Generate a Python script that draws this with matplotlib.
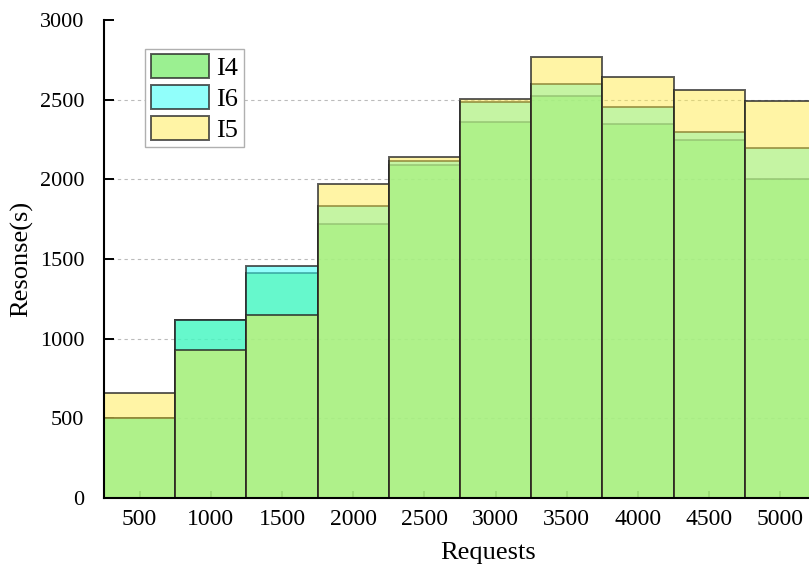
import numpy as np
import matplotlib.pyplot as plt

plt.rcParams['font.family'] = ['Liberation Serif', 'DejaVu Serif']

# data
requests = ['500', '1000', '1500', '2000', '2500', '3000', '3500', '4000', '4500', '5000']
i4 = [500, 1120, 1415, 1720, 2090, 2360, 2520, 2350, 2250, 2000]
i6 = [500, 1120, 1455, 1830, 2115, 2485, 2600, 2455, 2300, 2195]
i5 = [660, 930, 1148, 1970, 2140, 2505, 2765, 2640, 2560, 2490]

# colours (rgba) chosen so the overlaps blend like the original
green = (88/255, 230/255, 72/255, 0.60)
cyan = (62/255, 255/255, 249/255, 0.57)
yellow = (255/255, 234/255, 67/255, 0.48)
edge = (0.15, 0.15, 0.15, 0.75)

fig = plt.figure(figsize=(8.09, 5.72), dpi=100)
ax = fig.add_axes([104/809, 74/572, 712/809, 478/572])

x = np.arange(len(requests))
ax.bar(x, i4, width=1.0, color=green, edgecolor=edge, linewidth=1.4, label='I4', zorder=2)
ax.bar(x, i6, width=1.0, color=cyan, edgecolor=edge, linewidth=1.4, label='I6', zorder=3)
ax.bar(x, i5, width=1.0, color=yellow, edgecolor=edge, linewidth=1.4, label='I5', zorder=4)

ax.set_xlim(-0.5, len(requests) - 0.5)
ax.set_ylim(0, 3000)
ax.set_xticks(x)
ax.set_xticklabels(requests)
ax.set_yticks(np.arange(0, 3001, 500))

# dashed horizontal grid, none on the top edge
for yv in range(500, 3000, 500):
    ax.axhline(yv, color='#bbbbbb', linestyle=(0, (3, 3)), linewidth=0.8, zorder=0)

for s in ['top', 'right']:
    ax.spines[s].set_visible(False)
for s in ['left', 'bottom']:
    ax.spines[s].set_linewidth(1.5)
    ax.spines[s].set_zorder(6)

ax.tick_params(axis='y', direction='in', length=7, width=1.4, pad=14, labelsize=16)
ax.tick_params(axis='x', direction='in', length=5, width=1.2, pad=8, labelsize=17)

ax.set_xlabel('Requests', fontsize=19)
ax.xaxis.set_label_coords(0.54, -0.092)
ax.set_ylabel('Resonse(s)', fontsize=19, labelpad=5)

leg = ax.legend(loc='upper left', bbox_to_anchor=(0.058, 0.94), fontsize=19,
                handlelength=2.2, handleheight=1.05, labelspacing=0.18,
                handletextpad=0.3, borderpad=0.2, borderaxespad=0,
                fancybox=False, framealpha=1)
leg.get_frame().set_edgecolor('#b0b0b0')
leg.get_frame().set_linewidth(1.0)

plt.savefig('out.png', dpi=100)
